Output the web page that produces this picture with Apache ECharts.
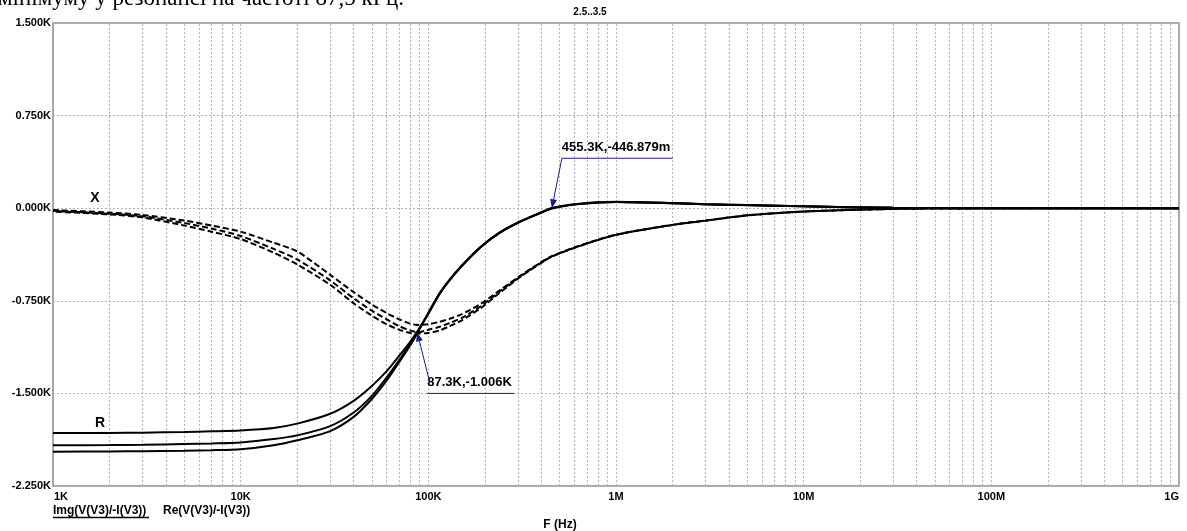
<!DOCTYPE html>
<html>
<head>
<meta charset="utf-8">
<script src="https://cdn.jsdelivr.net/npm/echarts@6/dist/echarts.min.js"></script>
<style>
  html, body { margin: 0; padding: 0; background: #fff; }
  #chart { width: 1187px; height: 531px; }
</style>
</head>
<body>
<div id="chart"></div>
<script>
// Frequency sweep points (Hz)
const freqs = [1e3, 2e3, 3e3, 5e3, 7e3, 1e4, 1.5e4, 2e4, 3e4, 4e4, 5e4, 6e4, 7e4, 8e4, 8.73e4,
  1e5, 1.15e5, 1.3e5, 1.5e5, 1.9e5, 2.4e5, 3.1e5, 3.9e5, 4.553e5, 6.4e5, 1e6, 2e6, 3e6, 5e6,
  1e7, 3e7, 1e8, 1e9];

// Imaginary part of the impedance (ohm), three parameter steps
const imgX1 = [-15, -35, -55, -100, -140, -190, -280, -350, -540, -680, -780, -850, -900, -935, -945,
  -940, -920, -895, -860, -775, -665, -545, -447, -388, -303, -214, -135, -100, -58, -27, -6, -1, 0];
const imgX2 = [-22, -45, -65, -120, -165, -225, -330, -415, -585, -730, -830, -900, -955, -990, -1006,
  -985, -960, -930, -890, -795, -675, -550, -450, -390, -305, -215, -135, -100, -58, -27, -6, -1, 0];
const imgX3 = [-28, -50, -75, -140, -190, -250, -360, -455, -620, -770, -870, -940, -985, -1010, -1015,
  -1010, -990, -955, -910, -810, -685, -555, -453, -392, -307, -216, -136, -101, -58, -27, -6, -1, 0];

// Real part of the impedance (ohm), three parameter steps
const reR1 = [-1820, -1820, -1818, -1812, -1807, -1800, -1780, -1745, -1665, -1560, -1440, -1320, -1195, -1082, -1000,
  -855, -692, -582, -472, -316, -200, -108, -43, -2, 33, 50, 40, 32, 24, 15, 3, 0.5, 0];
const reR2 = [-1920, -1918, -1916, -1910, -1905, -1897, -1870, -1840, -1765, -1655, -1520, -1370, -1230, -1100, -1006,
  -850, -690, -580, -470, -315, -198, -107, -42, -0.447, 35, 51, 41, 33, 25, 15, 3, 0.5, 0];
const reR3 = [-1973, -1970, -1968, -1964, -1960, -1952, -1920, -1880, -1805, -1690, -1545, -1395, -1245, -1112, -1012,
  -848, -688, -578, -468, -314, -196, -105, -40, 1, 36, 52, 42, 33, 25, 15, 3, 0.5, 0];

// Axis tick labels
const xTickLabels = ['1K', '10K', '100K', '1M', '10M', '100M', '1G'];
const yMin = -2250, yMax = 1500, yStep = 750;

// Cursor annotations
const annotFreqs = [87300, 455300];
const annotValues = [-1006, -0.447];
const annotTexts = ['87.3K,-1.006K', '455.3K,-446.879m'];

const pairs = ys => freqs.map((f, i) => [f, ys[i]]);

// Log-decade grid: 2..10 in every decade
const gridFreqs = [];
for (let d = 3; d < 9; d++) {
  for (let m = 2; m <= 10; m++) gridFreqs.push(m * Math.pow(10, d));
}

const FONT = '"Liberation Sans", Arial, sans-serif';
const chart = echarts.init(document.getElementById('chart'), null, { renderer: 'canvas' });

const solid = { color: '#000', width: 2 };
function dashed(offset) {
  return { color: '#000', width: 2, type: [6, 3], dashOffset: offset };
}

const curve = (name, ys, lineStyle) => ({
  name, type: 'line', data: pairs(ys), showSymbol: false, symbol: 'none',
  smooth: 0.25, lineStyle, z: 5, animation: false, silent: true
});

chart.setOption({
  animation: false,
  backgroundColor: '#fff',
  grid: { left: 53, right: 8, top: 23, bottom: 45, show: true, borderColor: '#8c8c8c', borderWidth: 1.5, backgroundColor: 'transparent' },
  xAxis: {
    type: 'log', logBase: 10, min: 1e3, max: 1e9, splitNumber: 6,
    axisLine: { show: false }, axisTick: { show: false },
    splitLine: { show: false },
    axisLabel: {
      margin: 5, fontFamily: FONT, fontSize: 11, fontWeight: 'bold', color: '#000',
      alignMaxLabel: 'right',
      formatter: v => {
        const i = Math.round(Math.log10(v)) - 3;
        const t = xTickLabels[i] || '';
        return i === 0 ? '{first|' + t + '}' : t;
      },
      rich: {
        first: { padding: [0, 0, 0, 16], fontFamily: FONT, fontSize: 11, fontWeight: 'bold', color: '#000' }
      }
    }
  },
  yAxis: {
    type: 'value', min: yMin, max: yMax, interval: yStep,
    axisLine: { show: false }, axisTick: { show: false },
    splitLine: { show: true, lineStyle: { color: '#b4b4b4', type: [2, 2], width: 1 } },
    axisLabel: {
      margin: 2, fontFamily: FONT, fontSize: 11, fontWeight: 'bold', color: '#000',
      formatter: v => (v / 1000).toFixed(3) + 'K'
    }
  },
  series: [
    {
      name: 'grid', type: 'line', data: [], silent: true, z: 1,
      markLine: {
        silent: true, symbol: 'none', animation: false,
        label: { show: false },
        lineStyle: { color: '#b4b4b4', type: [2, 2], width: 1 },
        data: gridFreqs.map(f => ({ xAxis: f }))
      }
    },
    curve('X1', imgX1, dashed(0)),
    curve('X2', imgX2, dashed(3)),
    curve('X3', imgX3, dashed(6)),
    curve('R1', reR1, solid),
    curve('R2', reR2, solid),
    curve('R3', reR3, solid)
  ]
});

// Cursor labels with arrows, positioned from the data values
const NAVY = '#1b1b8c';
const graphics = [
  { type: 'text', x: -2, y: -1, style: { text: 'мінімуму у резонансі на частоті 87,5 кГц.', font: '23px "Liberation Serif", serif', fill: '#000', verticalAlign: 'middle' } },
  { type: 'text', x: 590, y: 12, style: { text: '2.5..3.5', font: 'bold 10px ' + FONT, fill: '#000', align: 'center', verticalAlign: 'middle' } },
  { type: 'text', x: 95, y: 198, style: { text: 'X', font: 'bold 14px ' + FONT, fill: '#000', align: 'center', verticalAlign: 'middle' } },
  { type: 'text', x: 100, y: 423, style: { text: 'R', font: 'bold 14px ' + FONT, fill: '#000', align: 'center', verticalAlign: 'middle' } },
  { type: 'text', x: 53, y: 511, style: { text: 'Img(V(V3)/-I(V3))', font: 'bold 12px ' + FONT, fill: '#000', verticalAlign: 'middle' } },
  { type: 'line', shape: { x1: 53, y1: 517.5, x2: 149, y2: 517.5 }, style: { stroke: '#000', lineWidth: 1.5 } },
  { type: 'text', x: 163, y: 511, style: { text: 'Re(V(V3)/-I(V3))', font: 'bold 12px ' + FONT, fill: '#000', verticalAlign: 'middle' } },
  { type: 'text', x: 560, y: 525, style: { text: 'F (Hz)', font: 'bold 12px ' + FONT, fill: '#000', align: 'center', verticalAlign: 'middle' } }
];

const ctx = document.createElement('canvas').getContext('2d');
ctx.font = 'bold 13px ' + FONT;

annotFreqs.forEach((f, i) => {
  const [tx, ty] = chart.convertToPixel({ gridIndex: 0 }, [f, annotValues[i]]);
  const below = annotValues[i] < -500;
  const w = Math.ceil(ctx.measureText(annotTexts[i]).width) + 2;
  const ux = tx + 10;
  const uy = below ? ty + 61 : ty - 50;
  const tail = below ? [ux + 1.5, uy - 15] : [ux, uy];
  const ang = Math.atan2(ty - tail[1], tx - tail[0]);
  const len = 9, hw = 3.5;
  const bx = tx - len * Math.cos(ang), by = ty - len * Math.sin(ang);
  const px = -Math.sin(ang) * hw, py = Math.cos(ang) * hw;
  graphics.push(
    { type: 'text', x: ux, y: uy - 11, z: 20, style: { text: annotTexts[i], font: 'bold 13px ' + FONT, fill: '#000', verticalAlign: 'middle' } },
    { type: 'line', z: 20, shape: { x1: ux, y1: uy, x2: ux + w, y2: uy }, style: { stroke: NAVY, lineWidth: 1 } },
    { type: 'line', z: 20, shape: { x1: tail[0], y1: tail[1], x2: bx, y2: by }, style: { stroke: NAVY, lineWidth: 1 } },
    { type: 'polygon', z: 20, shape: { points: [[tx, ty], [bx + px, by + py], [bx - px, by - py]] }, style: { fill: NAVY } }
  );
});

chart.setOption({ graphic: graphics });
</script>
</body>
</html>
